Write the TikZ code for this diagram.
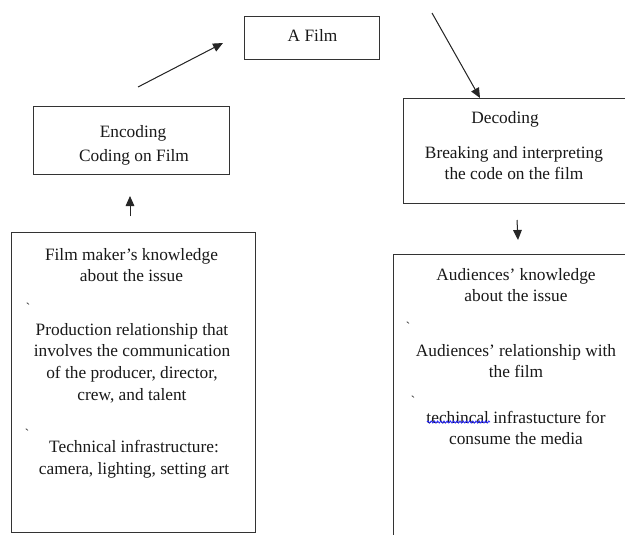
\documentclass[tikz,border=0pt]{standalone}
\usepackage{fontspec}
\setmainfont{Liberation Serif}
\usetikzlibrary{arrows.meta,decorations.pathmorphing}
\begin{document}
\begin{tikzpicture}[x=0.75pt,y=-0.75pt,
  box/.style={draw=black!80, line width=0.8pt, rectangle, inner sep=0pt, anchor=north west},
  txt/.style={align=center, font=\fontsize{13}{16.2}\selectfont, inner sep=0pt, text=black!90},
  arr/.style={-{Triangle[length=7.5pt,width=6.5pt]}, line width=0.75pt, draw=black!85, fill=black!85},
  tickmark/.style={font=\fontsize{10}{10}\selectfont, inner sep=0pt, text=black!85}]
\clip (0,0) rectangle (625,535);
\fill[white] (0,0) rectangle (625,535);
% boxes
\node[box, minimum width=101.25pt, minimum height=32.25pt] (film) at (244,16) {};
\node[box, minimum width=147pt, minimum height=51pt] (enc) at (33,106) {};
\node[box, minimum width=177.75pt, minimum height=78.75pt] (dec) at (403,98) {};
\node[box, minimum width=183pt, minimum height=225pt] (maker) at (11,232) {};
\node[box, minimum width=185.25pt, minimum height=229.5pt] (aud) at (393,254) {};
% texts
\node[txt] (filmT) at (312.5,35) {A Film};
\node[txt] (encT1) at (133,133) {Encoding};
\node[txt] (encT2) at (134,157) {Coding on Film};
\node[txt] (decT1) at (505,119) {Decoding};
\node[txt] (decT2) at (514,163) {Breaking and interpreting\\the code on the film};
\node[txt] (mk1) at (131.5,265) {Film maker's knowledge\\about the issue};
\node[tickmark] (mkt1) at (28,308) {\textasciigrave};
\node[txt] (mk2) at (132,363) {Production relationship that\\involves the communication\\of the producer, director,\\crew, and talent};
\node[tickmark] (mkt2) at (27,434) {\textasciigrave};
\node[txt] (mk3) at (134,459) {Technical infrastructure:\\camera, lighting, setting art};
\node[txt] (au1) at (516,285) {Audiences' knowledge\\about the issue};
\node[tickmark] (aut1) at (408,327) {\textasciigrave};
\node[txt] (au2) at (516,361) {Audiences' relationship with\\the film};
\node[tickmark] (aut2) at (413,401) {\textasciigrave};
\node[txt] (au3) at (516,428) {techincal infrastucture for\\consume the media};
\draw[blue!85, line width=0.6pt, decorate, decoration={snake, segment length=2.4pt, amplitude=0.8pt}] (427,422) -- (490,422);
% arrow end points
\coordinate (a1s) at (138,87);
\coordinate (a1e) at (223,43);
\coordinate (a2s) at (432,13);
\coordinate (a2e) at (480,98);
\coordinate (a3s) at (130,216);
\coordinate (a3e) at (130,196);
\coordinate (a4s) at (517,220);
\coordinate (a4e) at (518,240);
\draw[arr] (a1s) -- (a1e);
\draw[arr] (a2s) -- (a2e);
\draw[arr] (a3s) -- (a3e);
\draw[arr] (a4s) -- (a4e);
\end{tikzpicture}
\end{document}
